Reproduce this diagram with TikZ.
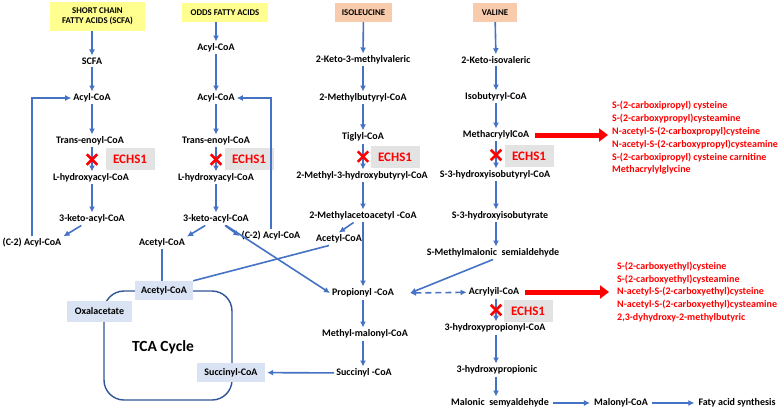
\documentclass[tikz,border=0pt]{standalone}
\usepackage{fontspec}
\setmainfont{Carlito}
\usetikzlibrary{arrows.meta,shapes.misc}
\definecolor{arrblue}{HTML}{4472C4}
\definecolor{hdryellow}{HTML}{FFFF8F}
\definecolor{hdrpeach}{HTML}{F8CBAD}
\definecolor{echsgray}{HTML}{E3E3E3}
\definecolor{tcablue}{HTML}{2F5597}
\definecolor{tcafill}{HTML}{DAE3F3}

\begin{document}
\begin{tikzpicture}[x=1pt,y=-1pt,
  >={Latex[length=6pt,width=6pt]},
  lbl/.style={font=\bfseries\fontsize{10}{12}\selectfont, inner sep=2pt},
  hdr/.style={font=\bfseries\fontsize{8.8}{10.5}\selectfont, minimum height=19pt, inner sep=2pt},
  arr/.style={->, arrblue, line width=1.6pt},
  ln/.style={arrblue, line width=1.6pt},
  xmark/.style={cross out, draw=red, line width=2.5pt, minimum size=8pt, inner sep=0pt},
  echs/.style={fill=echsgray, text=red, font=\bfseries\fontsize{13}{15}\selectfont,
    minimum width=49pt, minimum height=22pt, inner sep=1pt},
  redlist/.style={anchor=west, align=left, text=red,
    font=\bfseries\fontsize{10}{12.8}\selectfont, inner sep=0pt},
  bigarr/.style={-{Triangle[length=9pt,width=13pt]}, red, line width=5pt},
  tcabox/.style={fill=tcafill, lbl, minimum height=19pt}]
\useasboundingbox (0,0) rectangle (784,410);

% headers
\node[hdr, fill=hdryellow, minimum width=95pt, minimum height=29pt, align=center] (scfahdr) at (97.5,16.5) {SHORT CHAIN\\FATTY ACIDS (SCFA)};
\node[hdr, fill=hdryellow, minimum width=86pt] (oddhdr) at (225,12.5) {ODDS FATTY ACIDS};
\node[hdr, fill=hdrpeach, minimum width=57pt] (ilehdr) at (363.5,12.5) {ISOLEUCINE};
\node[hdr, fill=hdrpeach, minimum width=44pt] (valhdr) at (495,12.5) {VALINE};

% short chain fatty acids
\node[lbl] (scfa) at (92,61) {SCFA};
\node[lbl] (acylA) at (92,98) {Acyl-CoA};
\node[lbl] (transA) at (90,141) {Trans-enoyl-CoA};
\node[lbl] (hydA) at (91,178) {L-hydroxyacyl-CoA};
\node[lbl] (ketoA) at (92,219) {3-keto-acyl-CoA};
\node[lbl] (ctwoA) at (32,243) {(C-2) Acyl-CoA};
\node[echs] at (130,159) {ECHS1};
\draw[arr] (scfahdr.south -| scfa.north) -- (scfa.north);
\draw[arr] (scfa) -- (acylA);
\draw[arr] (acylA.south) -- (acylA.south |- transA.north);
\draw[arr] (acylA.south |- transA.south) -- node[xmark]{} (acylA.south |- hydA.north);
\draw[arr] (acylA.south |- hydA.south) -- (acylA.south |- ketoA.north);
\draw[arr] (ketoA) -- (ctwoA.north east);
\draw[arr] (ctwoA.north) |- (acylA);

% odds fatty acids
\node[lbl] (acylB) at (216,48) {Acyl-CoA};
\node[lbl] (acylC) at (216,98) {Acyl-CoA};
\node[lbl] (transB) at (216,141) {Trans-enoyl-CoA};
\node[lbl] (hydB) at (216,178) {L-hydroxyacyl-CoA};
\node[lbl] (ketoB) at (216,219) {3-keto-acyl-CoA};
\node[lbl] (acetylB) at (162,243) {Acetyl-CoA};
\node[lbl] (ctwoB) at (271,236) {(C-2) Acyl-CoA};
\node[echs] at (249,159) {ECHS1};
\draw[arr] (oddhdr.south -| acylB.north) -- (acylB.north);
\draw[arr] (acylB) -- (acylC);
\draw[arr] (acylC) -- (transB);
\draw[arr] (transB) -- node[xmark]{} (hydB);
\draw[arr] (hydB) -- (ketoB);
\draw[arr] (ketoB) -- (acetylB.north east);
\draw[arr] (ketoB) -- (ctwoB.west);
\draw[arr] (ctwoB.north) |- (acylC);

% isoleucine
\node[lbl] (kmv) at (363,60) {2-Keto-3-methylvaleric};
\node[lbl] (mbc) at (363,98) {2-Methylbutyryl-CoA};
\node[lbl] (tig) at (363,137) {Tiglyl-CoA};
\node[lbl] (mhb) at (362,176) {2-Methyl-3-hydroxybutyryl-CoA};
\node[lbl] (mac) at (363,216) {2-Methylacetoacetyl -CoA};
\node[lbl] (acetylC) at (339,239) {Acetyl-CoA};
\node[lbl] (prop) at (363,293) {Propionyl -CoA};
\node[lbl] (mmc) at (365,334) {Methyl-malonyl-CoA};
\node[lbl] (succ) at (364,373) {Succinyl -CoA};
\node[echs] at (395,157) {ECHS1};
\coordinate (propR) at ([xshift=14pt]prop.east);
\draw[arr] (ilehdr) -- (kmv);
\draw[arr] (kmv) -- (mbc);
\draw[arr] (mbc) -- (tig);
\draw[arr] (tig) -- node[xmark]{} (tig |- mhb.north);
\draw[arr] (tig |- mhb.south) -- (mac);
\draw[arr] (mac) -- (acetylC.north);
\draw[arr] (mac) -- (prop);
\draw[arr] (prop.south) -- (prop.south |- mmc.north);
\draw[arr] (prop.south |- mmc.south) -- (prop.south |- succ.north);
\draw[arr] (ketoB) -- (prop.west);

% valine
\node[lbl] (kiv) at (496,60) {2-Keto-isovaleric};
\node[lbl] (ibc) at (496,97) {Isobutyryl-CoA};
\node[lbl] (mcc) at (496,135) {MethacrylylCoA};
\node[lbl] (hibc) at (495,175) {S-3-hydroxyisobutyryl-CoA};
\node[lbl] (hib) at (500,216) {S-3-hydroxyisobutyrate};
\node[lbl] (mms) at (493,253) {S-Methylmalonic\ \ semialdehyde};
\node[lbl] (acr) at (494,292) {Acrylyil-CoA};
\node[lbl] (hpc) at (495,328) {3-hydroxypropionyl-CoA};
\node[lbl] (hpa) at (497,370) {3-hydroxypropionic};
\node[lbl] (msa) at (500,403) {Malonic\ \ semyaldehyde};
\node[lbl] (mal) at (621,403) {Malonyl-CoA};
\node[lbl] (fas) at (737,403) {Faty acid synthesis};
\node[echs] at (529,156) {ECHS1};
\node[echs] at (528,311) {ECHS1};
\draw[arr] (valhdr) -- (kiv);
\draw[arr] (kiv) -- (ibc);
\draw[arr] (ibc) -- (mcc);
\draw[arr] (mcc) -- node[xmark]{} (mcc |- hibc.north);
\draw[arr] (mcc |- hibc.south) -- (mcc |- hib.north);
\draw[arr] (mcc |- hib.south) -- (mcc |- mms.north);
\draw[arr] (mms.south) -- (propR);
\draw[arr, dash pattern=on 6pt off 4pt, <->] (propR) -- (acr);
\draw[arr] (mcc |- acr.south) -- node[xmark]{} (mcc |- hpc.north);
\draw[arr] (mcc |- hpc.south) -- (mcc |- hpa.north);
\draw[arr] (mcc |- hpa.south) -- (mcc |- msa.north);
\draw[arr, shorten >=2pt, shorten <=2pt] (msa) -- (mal);
\draw[arr, shorten >=2pt, shorten <=2pt] (mal) -- (fas);

% toxic metabolites
\node[redlist] (metabA) at (612,138) {S-(2-carboxipropyl) cysteine\\S-(2-carboxypropyl)cysteamine\\N-acetyl-S-(2-carboxpropyl)cysteine\\N-acetyl-S-(2-carboxypropyl)cysteamine\\S-(2-carboxipropyl) cysteine carnitine\\Methacrylylglycine};
\node[redlist] (metabB) at (617,292) {S-(2-carboxyethyl)cysteine\\S-(2-carboxyethyl)cysteamine\\N-acetyl-S-(2-carboxyethyl)cysteine\\N-acetyl-S-(2-carboxyethyl)cysteamine\\2,3-dyhydroxy-2-methylbutyric};
\draw[bigarr, shorten <=4pt, shorten >=4pt] (mcc) -- (mcc -| metabA.west);
\draw[bigarr, shorten <=4pt, shorten >=8pt] (acr) -- (acr -| metabB.west);

% TCA cycle
\draw[tcablue, line width=1.4pt, rounded corners=20pt] (104,291) rectangle (232,400);
\node[tcabox, minimum width=58pt] (tcaacetyl) at (164,290.5) {Acetyl-CoA};
\node[tcabox, minimum width=65pt, minimum height=21pt] (oxal) at (99.5,311.5) {Oxalacetate};
\node[tcabox, minimum width=68pt] (tcasucc) at (231,372.5) {Succinyl-CoA};
\node[font=\bfseries\fontsize{15.5}{18}\selectfont] (tcatitle) at (163,347) {TCA Cycle};
\draw[ln] (acetylB) -- (acetylB |- tcaacetyl.north);
\draw[ln] ([xshift=-10pt]acetylC.south) -- (tcaacetyl.north east);
\draw[arr, shorten >=2pt] (succ) -- (tcasucc);
\end{tikzpicture}
\end{document}
